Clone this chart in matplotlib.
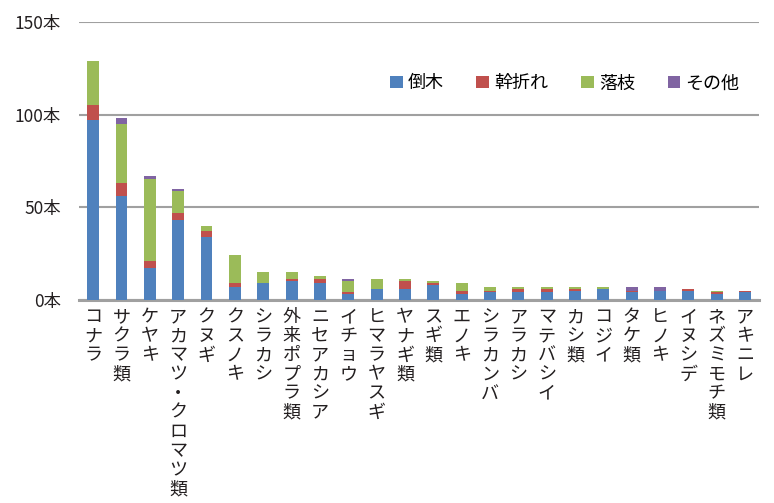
import matplotlib
matplotlib.use("Agg")
import matplotlib.pyplot as plt
import numpy as np

plt.rcParams["font.family"] = ["Noto Sans CJK JP", "DejaVu Sans"]

species = ["コナラ", "サクラ類", "ケヤキ", "アカマツ・クロマツ類", "クヌギ", "クスノキ",
           "シラカシ", "外来ポプラ類", "ニセアカシア", "イチョウ", "ヒマラヤスギ", "ヤナギ類",
           "スギ類", "エノキ", "シラカンバ", "アラカシ", "マテバシイ", "カシ類", "コジイ",
           "タケ類", "ヒノキ", "イヌシデ", "ネズミモチ類", "アキニレ"]
toboku = [97, 56, 17, 43, 34, 7, 9, 10, 9, 3, 6, 6, 8, 3, 4, 4, 4, 5, 6, 4, 5, 5, 3, 4]
miki   = [8, 7, 4, 4, 3, 2, 0, 1, 2, 1, 0, 4, 1, 2, 1, 2, 2, 1, 0, 1, 0, 1, 1, 1]
rakushi = [24, 32, 44, 12, 3, 15, 6, 4, 2, 6, 5, 1, 1, 4, 2, 1, 1, 1, 1, 0, 0, 0, 1, 0]
sonota = [0, 3, 2, 1, 0, 0, 0, 0, 0, 1, 0, 0, 0, 0, 0, 0, 0, 0, 0, 2, 2, 0, 0, 0]

series = [("倒木", toboku, "#4F81BD"), ("幹折れ", miki, "#C0504D"),
          ("落枝", rakushi, "#9BBB59"), ("その他", sonota, "#8064A2")]

fig = plt.figure(figsize=(7.74, 5.03), dpi=100)
ax = fig.add_axes([0.102, 0.404, 0.879, 0.552])

x = np.arange(len(species))
bottom = np.zeros(len(species))
for name, vals, col in series:
    ax.bar(x, vals, 0.42, bottom=bottom, color=col, label=name, zorder=3)
    bottom += np.array(vals)

ax.set_xlim(-0.5, len(species) - 0.5)
ax.set_ylim(0, 150)
ax.set_yticks([0, 50, 100, 150])
ax.set_yticklabels(["0本", "50本", "100本", "150本"], fontsize=12.5, color="#231f20")
ax.yaxis.grid(True, color="#a0a0a0", linewidth=1.5, zorder=0)
ax.tick_params(axis="y", length=0, pad=13)
for s in ["top", "right", "left"]:
    ax.spines[s].set_visible(False)
ax.spines["bottom"].set_color("#a0a0a0")
ax.spines["bottom"].set_linewidth(2.2)

ax.set_xticks(x)
ax.set_xticklabels(["\n".join(s) for s in species], fontsize=13, linespacing=1.08,
                   color="#231f20", va="top")
ax.tick_params(axis="x", length=0, pad=6)

ax.legend(loc="upper right", bbox_to_anchor=(0.995, 0.87), ncol=4, frameon=False,
          fontsize=13, handlelength=0.7, handleheight=0.7, handletextpad=0.3,
          columnspacing=1.8)

fig.savefig("out.png", dpi=100)
